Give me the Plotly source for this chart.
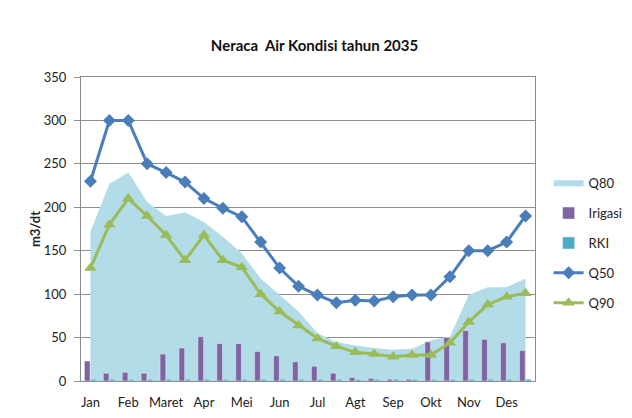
import plotly.graph_objects as go

# half-monthly periods, labels on every other one
months = ['Jan', 'Feb', 'Maret', 'Apr', 'Mei', 'Jun', 'Jul', 'Agt', 'Sep', 'Okt', 'Nov', 'Des']
periods = list(range(24))

q80 = [172, 227, 240, 206, 190, 194, 183, 166, 147, 118, 99, 80,
       55, 45, 41, 38, 36, 37, 47, 51, 99, 108, 108, 118]
irigasi = [23, 9, 10, 9, 31, 38, 51, 43, 43, 34, 29, 22,
           17, 9, 4, 3, 2, 2, 45, 50, 58, 48, 44, 35]
rki = [2, 2, 2, 2, 2, 2, 2, 2, 2, 2, 2, 2,
       2, 2, 2, 2, 2, 2, 2, 2, 2, 2, 2, 2]
q50 = [230, 300, 300, 250, 240, 229, 210, 199, 189, 160, 130, 109,
       99, 90, 93, 92, 97, 99, 99, 120, 150, 150, 160, 190]
q90 = [130, 180, 210, 190, 168, 139, 168, 139, 131, 100, 80, 64,
       49, 40, 33, 31, 28, 30, 30, 44, 68, 88, 97, 101]

fnt = 'Lato'

fig = go.Figure()

# area on the base axis so the bars (on y2) are drawn over it
fig.add_trace(go.Scatter(
    x=periods, y=q80, name='Q80', mode='none',
    fill='tozeroy', fillcolor='#B2DCE8', legendgroup='a'))

fig.add_trace(go.Bar(
    x=periods, y=irigasi, name='Irigasi', marker_color='#8064A2',
    width=0.3, offset=-0.32, legendgroup='b', yaxis='y2'))

fig.add_trace(go.Bar(
    x=periods, y=rki, name='RKI', marker_color='#4BACC6',
    width=0.3, offset=0.0, legendgroup='c', yaxis='y2'))

fig.add_trace(go.Scatter(
    x=periods, y=q50, name='Q50', mode='lines+markers',
    line={'color': '#4A7EBB', 'width': 3},
    marker={'symbol': 'diamond', 'size': 10, 'color': '#4A7EBB'},
    legendgroup='d', yaxis='y2'))

fig.add_trace(go.Scatter(
    x=periods, y=q90, name='Q90', mode='lines+markers',
    line={'color': '#9BBB59', 'width': 3},
    marker={'symbol': 'triangle-up', 'size': 11, 'color': '#9BBB59'},
    legendgroup='e', yaxis='y2'))

fig.update_layout(
    width=632,
    height=418,
    margin=dict(l=73, r=97, t=69, b=45),
    paper_bgcolor='white',
    plot_bgcolor='white',
    font=dict(family=fnt, size=13, color='#222222'),
    barmode='overlay',
    title=dict(
        text='<b>Neraca  Air Kondisi tahun 2035</b>',
        x=0.485, xanchor='center', y=0.909, yanchor='middle',
        font=dict(family=fnt, size=15, color='#111111')),
    showlegend=True,
    legend=dict(
        x=1.03, xanchor='left', y=0.7, yanchor='top',
        tracegroupgap=10, itemwidth=30,
        font=dict(family=fnt, size=13, color='#222222'),
        bgcolor='rgba(0,0,0,0)'),
    xaxis=dict(
        range=[-0.5, 23.5],
        tickvals=periods[::2],
        ticktext=months,
        showgrid=False,
        showline=True, mirror=True, linecolor='#8C8C8C', linewidth=1,
        ticks='', zeroline=False, ticklabelstandoff=9,
        tickfont=dict(size=13)),
    yaxis=dict(
        range=[0, 350],
        dtick=50,
        showgrid=True, gridcolor='#8C8C8C', gridwidth=1,
        showline=True, mirror=True, linecolor='#8C8C8C', linewidth=1,
        zeroline=False, ticks='outside', ticklen=6, tickcolor='#8C8C8C',
        ticklabelstandoff=5,
        title=dict(text='<b>m3/dt</b>', standoff=0, font=dict(size=13)),
        tickfont=dict(size=13)),
    yaxis2=dict(
        range=[0, 350], overlaying='y', side='left',
        showgrid=False, showticklabels=False, showline=False,
        zeroline=False, ticks=''),
)

fig.write_html("out.html")
